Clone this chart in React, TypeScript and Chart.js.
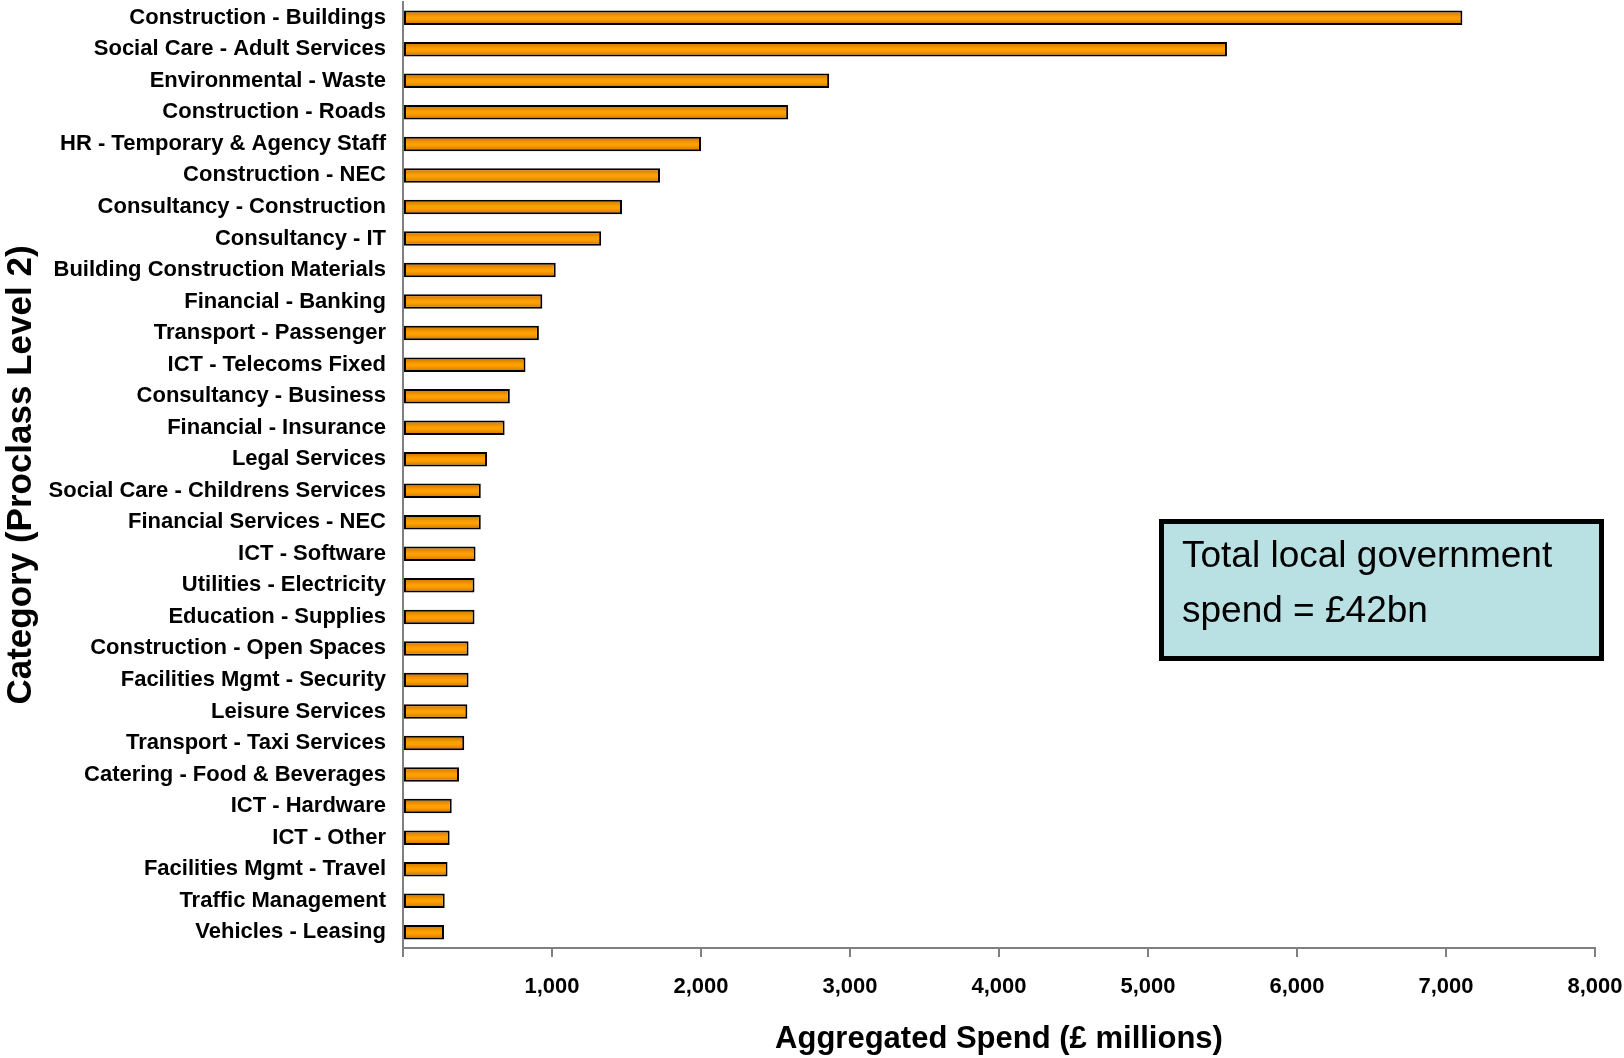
import React, { useEffect, useRef } from "react";
import { Chart, registerables } from "chart.js";

Chart.register(...registerables);

const categories: string[] = [
  "Construction - Buildings",
  "Social Care - Adult Services",
  "Environmental - Waste",
  "Construction - Roads",
  "HR - Temporary & Agency Staff",
  "Construction - NEC",
  "Consultancy - Construction",
  "Consultancy - IT",
  "Building Construction Materials",
  "Financial - Banking",
  "Transport - Passenger",
  "ICT - Telecoms Fixed",
  "Consultancy - Business",
  "Financial - Insurance",
  "Legal Services",
  "Social Care - Childrens Services",
  "Financial Services - NEC",
  "ICT - Software",
  "Utilities - Electricity",
  "Education - Supplies",
  "Construction - Open Spaces",
  "Facilities Mgmt - Security",
  "Leisure Services",
  "Transport - Taxi Services",
  "Catering - Food & Beverages",
  "ICT - Hardware",
  "ICT - Other",
  "Facilities Mgmt - Travel",
  "Traffic Management",
  "Vehicles - Leasing",
];

const spend: number[] = [
  7110, 5530, 2860, 2585, 2000, 1725, 1470, 1330, 1025, 935,
  912, 822, 717, 682, 564, 522, 522, 487, 480, 480,
  440, 440, 432, 411, 376, 327, 313, 299, 280, 275,
];

const xTickValues: number[] = [0, 1000, 2000, 3000, 4000, 5000, 6000, 7000, 8000];

const xTitle = "Aggregated Spend (£ millions)";
const yTitle = "Category (Proclass Level 2)";
const noteLines: string[] = ["Total local government", "spend = £42bn"];

const FONT = "'Liberation Sans', Arial, Helvetica, sans-serif";

const notePlugin = {
  id: "noteBox",
  afterDraw(chart: any) {
    const ctx = chart.ctx as CanvasRenderingContext2D;
    ctx.save();
    const x0 = 1159, y0 = 519, w = 445, h = 142, bw = 5;
    ctx.fillStyle = "#b9e0e3";
    ctx.fillRect(x0, y0, w, h);
    ctx.lineWidth = bw;
    ctx.strokeStyle = "#000000";
    ctx.strokeRect(x0 + bw / 2, y0 + bw / 2, w - bw, h - bw);
    ctx.fillStyle = "#000000";
    ctx.font = `37px ${FONT}`;
    ctx.textAlign = "left";
    ctx.textBaseline = "alphabetic";
    ctx.fillText(noteLines[0], 1182, 567);
    ctx.fillText(noteLines[1], 1182, 622);
    ctx.restore();
  },
};

function barFill(c: any) {
  const chart = c.chart;
  const ys = chart.scales && chart.scales.y;
  if (!ys || c.dataIndex === undefined) return "#f59a00";
  const yc = ys.getPixelForValue(c.dataIndex);
  if (!isFinite(yc)) return "#f59a00";
  const g = chart.ctx.createLinearGradient(0, yc - 7, 0, yc + 7);
  g.addColorStop(0, "#c97400");
  g.addColorStop(0.45, "#ff9f00");
  g.addColorStop(0.6, "#ff9f00");
  g.addColorStop(1, "#c97400");
  return g;
}

export default function App() {
  const ref = useRef<HTMLCanvasElement | null>(null);

  useEffect(() => {
    if (!ref.current) return;
    const chart = new Chart(ref.current, {
      type: "bar",
      data: {
        labels: categories,
        datasets: [
          {
            data: spend,
            backgroundColor: barFill,
            borderColor: "#000000",
            borderWidth: 2,
            borderSkipped: false,
            categoryPercentage: 1,
            barPercentage: 0.46,
          },
        ],
      },
      options: {
        indexAxis: "y",
        responsive: false,
        animation: false,
        devicePixelRatio: 1,
        layout: { padding: { top: 2, right: 29, bottom: 0, left: 0 } },
        plugins: {
          legend: { display: false },
          tooltip: { enabled: false },
        },
        scales: {
          x: {
            type: "linear",
            min: 0,
            max: 8000,
            afterBuildTicks(scale: any) {
              scale.ticks = xTickValues.map((v) => ({ value: v }));
            },
            afterFit(scale: any) {
              scale.height = 110;
              scale.paddingLeft = 0;
              scale.paddingRight = 0;
            },
            ticks: {
              autoSkip: false,
              maxRotation: 0,
              padding: 17,
              color: "#000000",
              font: { family: FONT, size: 22, weight: "bold" },
              callback: (v: any) => (Number(v) === 0 ? "" : Number(v).toLocaleString("en-US")),
            },
            grid: {
              display: true,
              drawOnChartArea: false,
              drawTicks: true,
              tickLength: 9,
              color: "#808080",
              lineWidth: 2,
            },
            border: { display: true, color: "#808080", width: 2 },
            title: {
              display: true,
              text: xTitle,
              color: "#000000",
              font: { family: FONT, size: 31, weight: "bold" },
              padding: { top: 0, bottom: 0 },
            },
          },
          y: {
            type: "category",
            afterFit(scale: any) {
              scale.width = 403;
              scale.paddingTop = 0;
              scale.paddingBottom = 0;
            },
            ticks: {
              autoSkip: false,
              padding: 17,
              color: "#000000",
              font: { family: FONT, size: 22, weight: "bold" },
            },
            grid: { display: false, drawTicks: false },
            border: { display: true, color: "#808080", width: 2 },
            title: {
              display: true,
              text: yTitle,
              color: "#000000",
              font: { family: FONT, size: 35, weight: "bold" },
              padding: { top: 0, bottom: 0 },
            },
          },
        },
      },
      plugins: [notePlugin],
    } as any);
    return () => chart.destroy();
  }, []);

  return (
    <div style={{ position: "absolute", left: 0, top: 0, width: 1624, height: 1058, background: "#ffffff" }}>
      <canvas ref={ref} width={1624} height={1058} style={{ display: "block", width: 1624, height: 1058 }} />
    </div>
  );
}
